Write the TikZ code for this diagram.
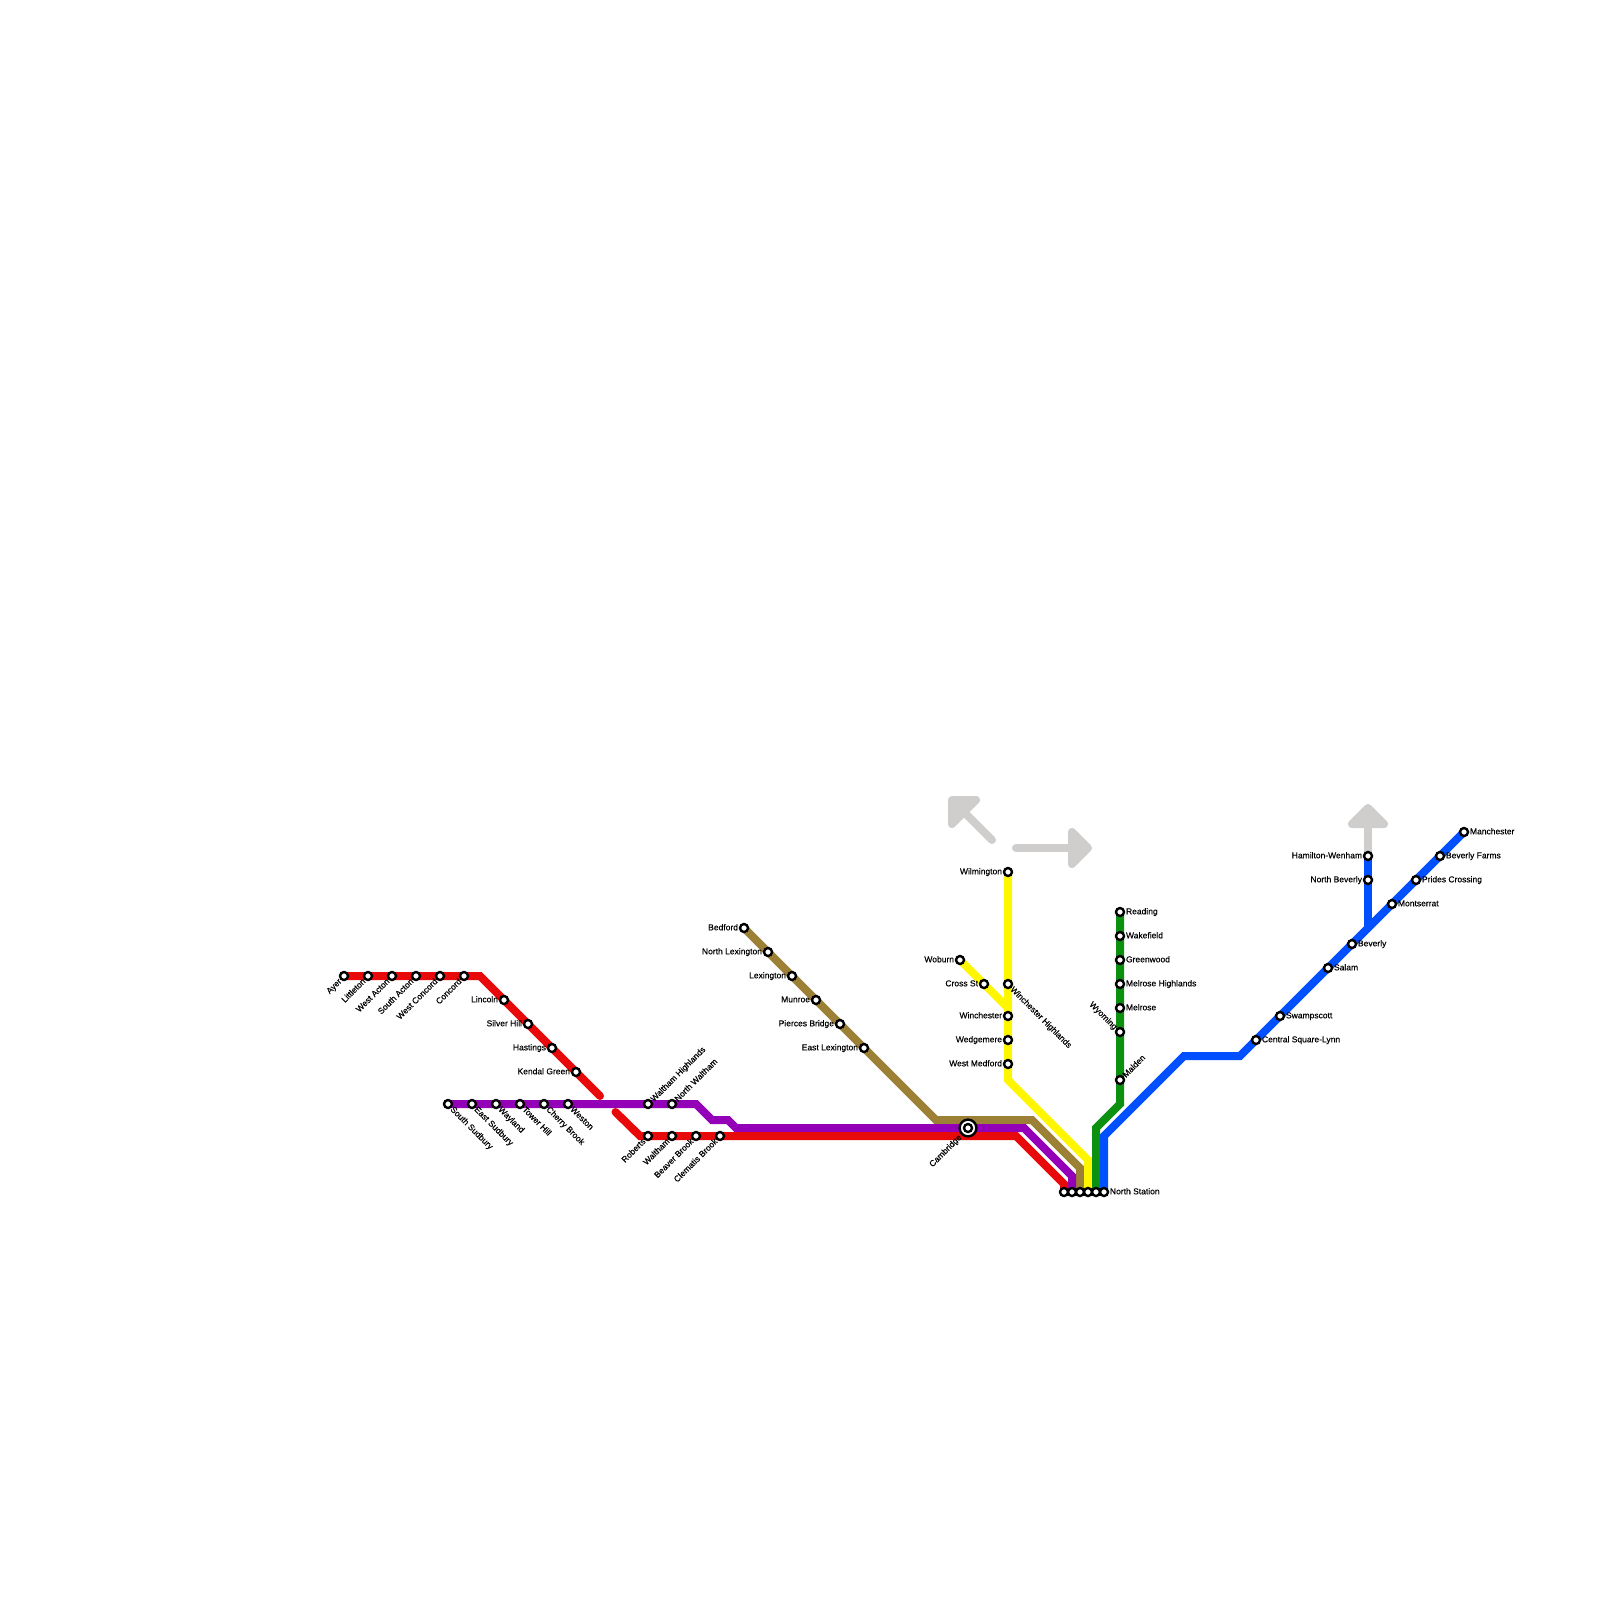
\documentclass[tikz,border=0pt]{standalone}
\usepackage{fontspec}
\setmainfont[FakeBold=0.3]{Liberation Sans}
\definecolor{rred}{HTML}{E80A0A}
\definecolor{rpurple}{HTML}{9400B8}
\definecolor{rbrown}{HTML}{9C8035}
\definecolor{ryellow}{HTML}{FFF700}
\definecolor{rgreen}{HTML}{0B9010}
\definecolor{rblue}{HTML}{0050FF}
\definecolor{rgray}{HTML}{CFCECC}
\tikzset{
  railway/.style={line width=4pt,line join=miter,miter limit=10},
  capround/.style={line cap=round},
  pointer/.style={line width=4pt,rgray,line cap=round,line join=round},
  pointerhead/.style={line width=4pt,rgray,fill=rgray,line join=round},
  stn/.style={circle,draw=black,fill=white,line width=1.2pt,minimum size=4pt,inner sep=0pt,outer sep=0pt},
  hub/.style={circle,draw=black,fill=white,line width=1.2pt,minimum size=8.4pt,inner sep=0pt,outer sep=0pt},
  lbl/.style={font=\fontsize{4.25pt}{5pt}\selectfont,inner sep=0pt,outer sep=0pt,text height=2.9pt,text depth=0pt,text=black},
  lblR/.style={lbl,anchor=west,xshift=3pt,yshift=0.3pt},
  lblL/.style={lbl,anchor=east,xshift=-3pt,yshift=0.3pt},
  lblDL/.style={lbl,anchor=east,rotate=45,xshift=-2.83pt},
  lblDR/.style={lbl,anchor=west,rotate=-45,xshift=2.83pt},
  lblUR/.style={lbl,anchor=west,rotate=45,xshift=2.83pt},
  lblUL/.style={lbl,anchor=east,rotate=-45,xshift=-2.83pt},
}
\newcommand{\stnat}[5]{\node[stn] (#1) at (#2,#3) {}; \node[#5] (#1-t) at (#2,#3) {#4};}
\begin{document}
\begin{tikzpicture}[x=0.5pt,y=-0.5pt]
\useasboundingbox (0,0) rectangle (1600,1600);
% station positions and bends
\foreach \n/\x/\y in {ayer/344/976,concord/464/976,redA/480/976,redB/600/1096,redC/615.5/1112,redD/640/1136,redE/1016/1136,redF/1064/1184,ns1/1064/1192,ssud/448/1104,purA/696/1104,purB/712/1120,purC/728/1120,purD/736/1128,purE/1024/1128,purF/1072/1176,ns2/1072/1192,bedford/744/928,brA/936/1120,brB/1032/1120,brC/1080/1168,ns3/1080/1192,wilm/1008/872,yeA/1008/1080,yeB/1088/1160,ns4/1088/1192,woburn/960/960,yeC/1008/1008,reading/1120/912,grA/1120/1104,grB/1096/1128,ns5/1096/1192,manch/1464/832,blA/1240/1056,blB/1184/1056,blC/1104/1136,ns6/1104/1192,hamw/1368/856,blD/1368/928,arNWa/992/840,arNWb/960/808,arNW1/952/800,arNW2/976/800,arNW3/952/824,arEa/1016/848,arEb/1076/848,arE1/1072/832,arE2/1088/848,arE3/1072/864,arNa/1368/856,arNb/1368/820,arN1/1368/808,arN2/1352/824,arN3/1384/824}
  {\coordinate (\n) at (\x,\y);}
% grey direction arrows
\draw[pointer] (arNWa) -- (arNWb);
\draw[pointerhead] (arNW1) -- (arNW2) -- (arNW3) -- cycle;
\draw[pointer] (arEa) -- (arEb);
\draw[pointerhead] (arE1) -- (arE2) -- (arE3) -- cycle;
\draw[pointer] (arNa) -- (arNb);
\draw[pointerhead] (arN1) -- (arN2) -- (arN3) -- cycle;
% lines
\draw[railway,rbrown] (bedford) -- (brA) -- (brB) -- (brC) -- (ns3);
\draw[railway,ryellow] (wilm) -- (yeA) -- (yeB) -- (ns4);
\draw[railway,ryellow] (woburn) -- (yeC);
\draw[railway,rgreen] (reading) -- (grA) -- (grB) -- (ns5);
\draw[railway,rblue] (manch) -- (blA) -- (blB) -- (blC) -- (ns6);
\draw[railway,rblue] (hamw) -- (blD);
\draw[railway,rpurple] (ssud) -- (purA) -- (purB) -- (purC) -- (purD) -- (purE) -- (purF) -- (ns2);
\draw[railway,rred,capround] (ayer) -- (redA) -- (redB);
\draw[railway,rred,capround] (redC) -- (redD) -- (redE) -- (redF) -- (ns1);
% red stations
\stnat{s1}{344}{976}{Ayer}{lblDL}
\stnat{s2}{368}{976}{Littleton}{lblDL}
\stnat{s3}{392}{976}{West Acton}{lblDL}
\stnat{s4}{416}{976}{South Acton}{lblDL}
\stnat{s5}{440}{976}{West Concord}{lblDL}
\stnat{s6}{464}{976}{Concord}{lblDL}
\stnat{s7}{504}{1000}{Lincoln}{lblL}
\stnat{s8}{528}{1024}{Silver Hill}{lblL}
\stnat{s9}{552}{1048}{Hastings}{lblL}
\stnat{s10}{576}{1072}{Kendal Green}{lblL}
\stnat{s11}{648}{1136}{Roberts}{lblDL}
\stnat{s12}{672}{1136}{Waltham}{lblDL}
\stnat{s13}{696}{1136}{Beaver Brook}{lblDL}
\stnat{s14}{720}{1136}{Clematis Brook}{lblDL}
% purple stations
\stnat{p1}{448}{1104}{South Sudbury}{lblDR}
\stnat{p2}{472}{1104}{East Sudbury}{lblDR}
\stnat{p3}{496}{1104}{Wayland}{lblDR}
\stnat{p4}{520}{1104}{Tower Hill}{lblDR}
\stnat{p5}{544}{1104}{Cherry Brook}{lblDR}
\stnat{p6}{568}{1104}{Weston}{lblDR}
\stnat{p7}{648}{1104}{Waltham Highlands}{lblUR}
\stnat{p8}{672}{1104}{North Waltham}{lblUR}
% brown stations
\stnat{b1}{744}{928}{Bedford}{lblL}
\stnat{b2}{768}{952}{North Lexington}{lblL}
\stnat{b3}{792}{976}{Lexington}{lblL}
\stnat{b4}{816}{1000}{Munroe}{lblL}
\stnat{b5}{840}{1024}{Pierces Bridge}{lblL}
\stnat{b6}{864}{1048}{East Lexington}{lblL}
% Cambridge
\node[hub] (camb) at (968,1128) {};
\node[stn] (cambi) at (968,1128) {};
\node[lbl,anchor=east,rotate=45,xshift=-5.66pt] (camb-t) at (968,1128) {Cambridge};
% yellow stations
\stnat{y1}{1008}{872}{Wilmington}{lblL}
\stnat{y2}{960}{960}{Woburn}{lblL}
\stnat{y3}{984}{984}{Cross St}{lblL}
\stnat{y4}{1008}{984}{Winchester Highlands}{lblDR}
\stnat{y5}{1008}{1016}{Winchester}{lblL}
\stnat{y6}{1008}{1040}{Wedgemere}{lblL}
\stnat{y7}{1008}{1064}{West Medford}{lblL}
% green stations
\stnat{g1}{1120}{912}{Reading}{lblR}
\stnat{g2}{1120}{936}{Wakefield}{lblR}
\stnat{g3}{1120}{960}{Greenwood}{lblR}
\stnat{g4}{1120}{984}{Melrose Highlands}{lblR}
\stnat{g5}{1120}{1008}{Melrose}{lblR}
\stnat{g6}{1120}{1032}{Wyoming}{lblUL}
\stnat{g7}{1120}{1080}{Malden}{lblUR}
% blue stations
\stnat{l1}{1256}{1040}{Central Square-Lynn}{lblR}
\stnat{l2}{1280}{1016}{Swampscott}{lblR}
\stnat{l3}{1328}{968}{Salam}{lblR}
\stnat{l4}{1352}{944}{Beverly}{lblR}
\stnat{l5}{1392}{904}{Montserrat}{lblR}
\stnat{l6}{1416}{880}{Prides Crossing}{lblR}
\stnat{l7}{1440}{856}{Beverly Farms}{lblR}
\stnat{l8}{1464}{832}{Manchester}{lblR}
\stnat{l9}{1368}{856}{Hamilton-Wenham}{lblL}
\stnat{l10}{1368}{880}{North Beverly}{lblL}
% North Station terminals
\node[stn] (n1) at (ns1) {};
\node[stn] (n2) at (ns2) {};
\node[stn] (n3) at (ns3) {};
\node[stn] (n4) at (ns4) {};
\node[stn] (n5) at (ns5) {};
\node[stn] (n6) at (ns6) {};
\node[lblR] (n6-t) at (ns6) {North Station};
\end{tikzpicture}
\end{document}
